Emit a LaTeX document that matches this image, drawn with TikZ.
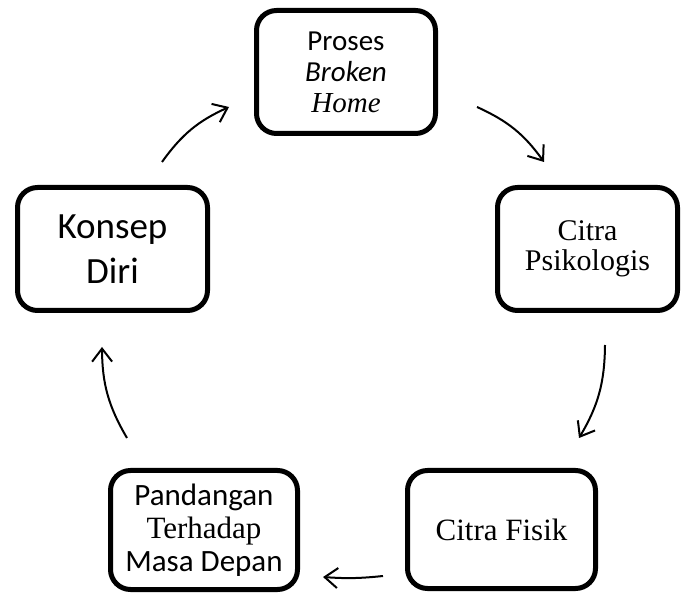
\documentclass[tikz,border=0pt]{standalone}
\usepackage{fontspec}
\setmainfont{Liberation Serif}
\setsansfont{Carlito}
\usetikzlibrary{arrows.meta, calc, positioning}

\begin{document}
\begin{tikzpicture}[
            x=1pt, y=1pt,
            >={Straight Barb[length=13pt, width=20pt]},
            box/.style={draw, rectangle, rounded corners=20pt, line width=5pt, align=center, inner sep=0pt},
            cyc/.style={->, line width=2pt}
        ]
        \useasboundingbox (0, 0) rectangle (682, 594);

        \node [box, minimum width=179pt, minimum height=123pt, font={\fontsize{29}{31}\selectfont}] (proses) at (346, 522)
            {\sffamily Proses\\ \sffamily\itshape Broken\\ \rmfamily\itshape Home};
        \node [box, minimum width=180pt, minimum height=123pt, font={\fontsize{30}{30}\selectfont}] (psikologis) at (587.5, 345)
            {Citra\\ Psikologis};
        \node [box, minimum width=188pt, minimum height=118pt, font={\fontsize{31}{33}\selectfont}] (fisik) at (501.5, 64.5)
            {Citra Fisik};
        \node [box, minimum width=187pt, minimum height=119pt, font={\fontsize{31}{33}\selectfont}] (pandangan) at (204, 64)
            {\sffamily Pandangan\\ \rmfamily Terhadap\\ \sffamily Masa Depan};
        \node [box, minimum width=190pt, minimum height=123pt, font={\fontsize{37}{45}\selectfont\sffamily}] (konsep) at (112.5, 345)
            {Konsep\\ Diri};

        % Cycle arrows
        \draw[cyc] ($(konsep.north) + (49.5, 23)$)     to[bend left=15] ($(proses.west) + (-25, -35)$);
        \draw[cyc] ($(proses.east) + (39, -35)$)       to[bend left=15] ($(psikologis.north) + (-43.5, 23)$);
        \draw[cyc] ($(psikologis.south) + (17.5, -32)$) to[bend left=15] ($(fisik.north) + (77.5, 30)$);
        \draw[cyc] ($(fisik.west) + (-22, -46.5)$)     to[bend left=5]  ($(pandangan.east) + (23, -47)$);
        \draw[cyc] ($(pandangan.north) + (-77, 30)$)   to[bend left=15] ($(konsep.south) + (-10.5, -34)$);
    \end{tikzpicture}
\end{document}
